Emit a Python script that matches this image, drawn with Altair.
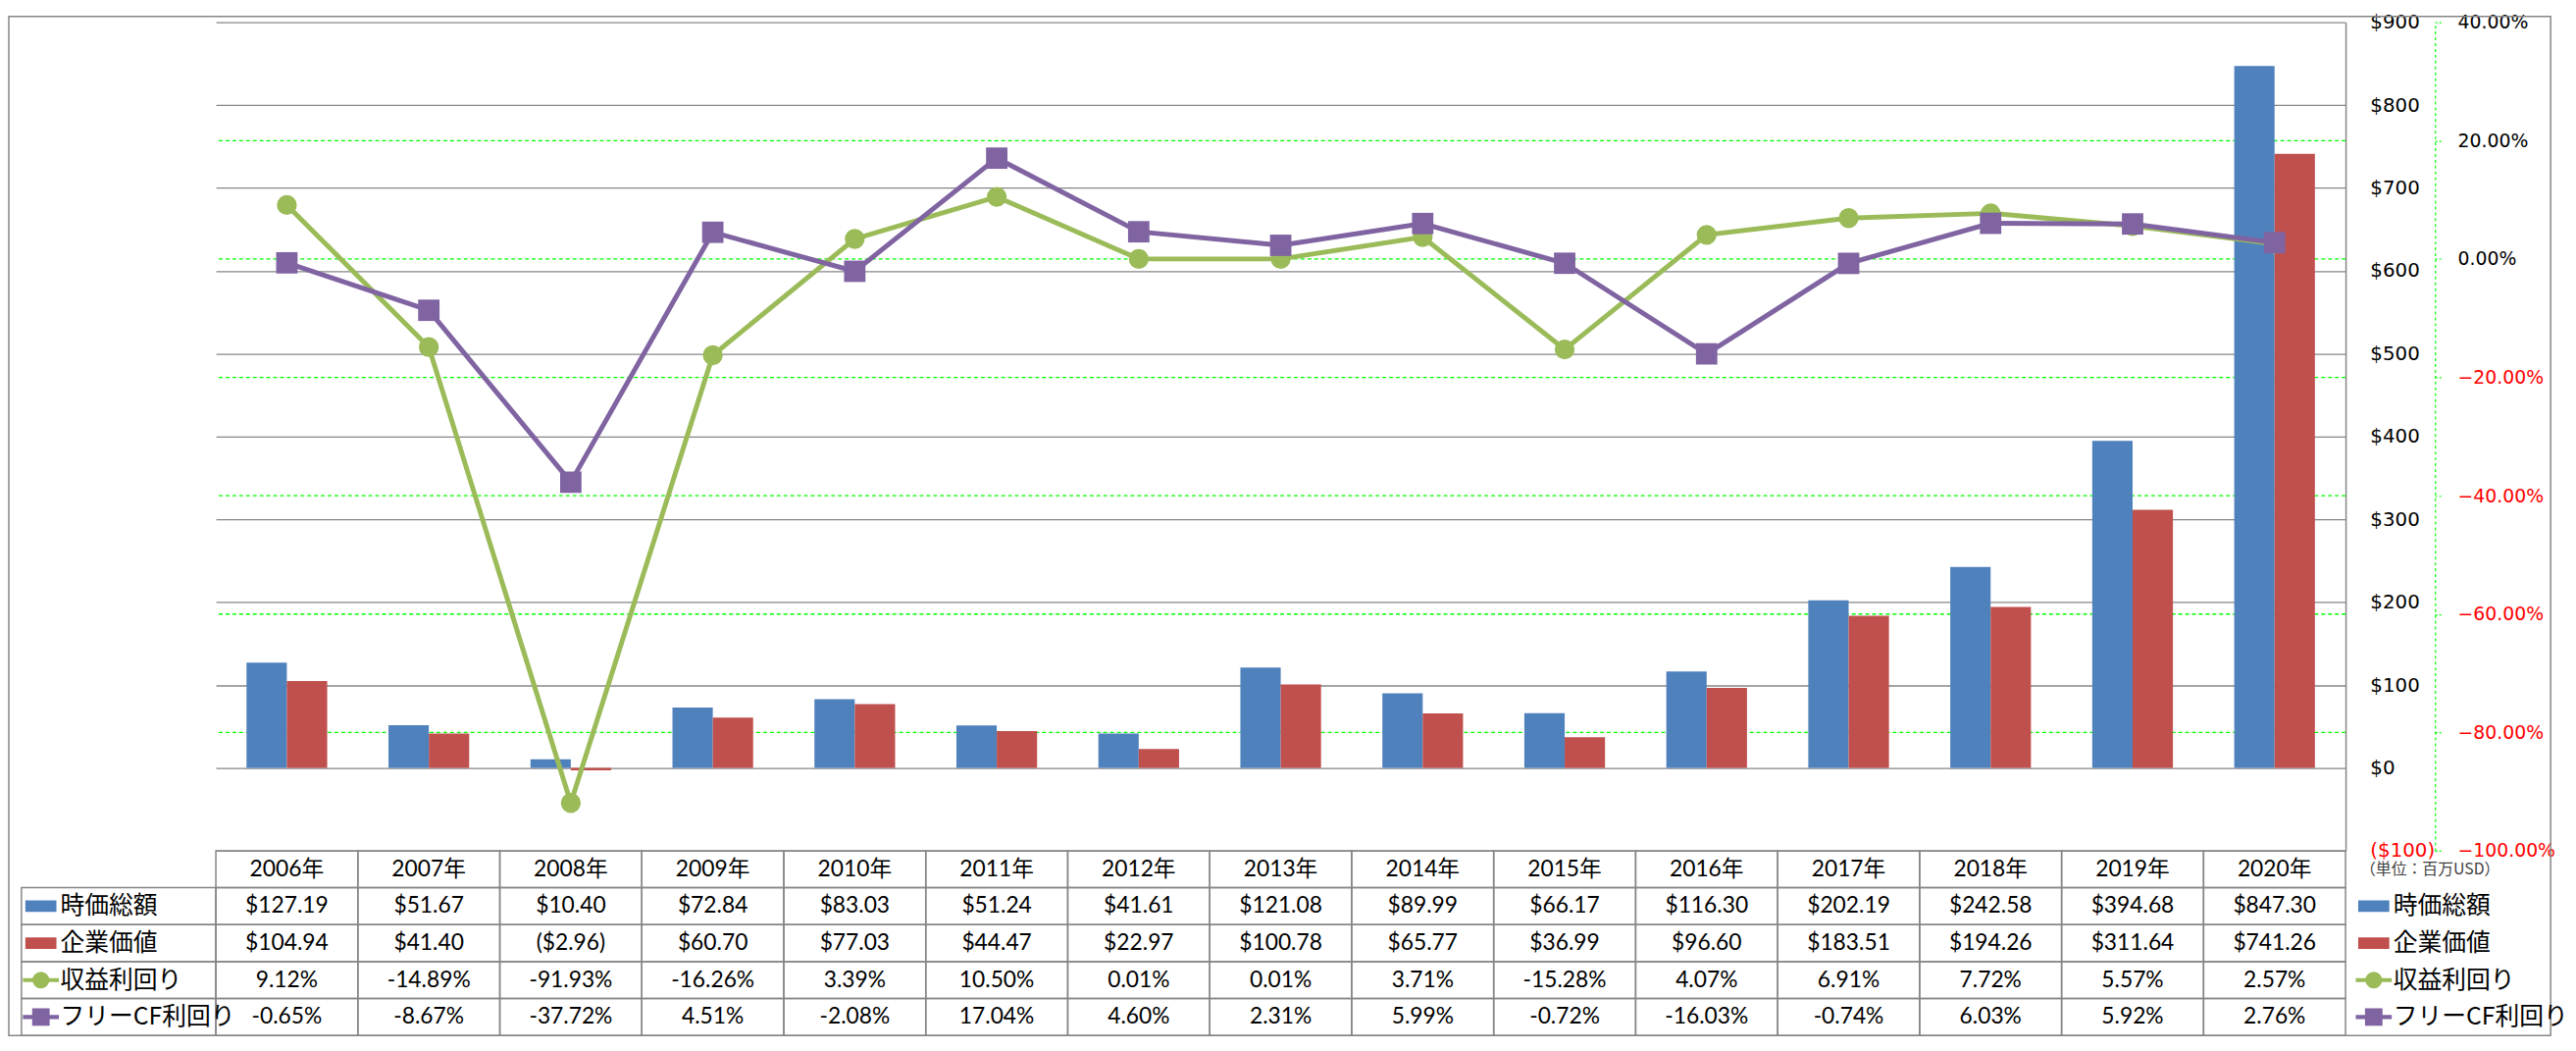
import altair as alt
import pandas as pd

# ---------------- data ----------------
years = [f"{y}年" for y in range(2006, 2021)]
market_cap = [127.19, 51.67, 10.40, 72.84, 83.03, 51.24, 41.61, 121.08, 89.99, 66.17,
              116.30, 202.19, 242.58, 394.68, 847.30]
enterprise_value = [104.94, 41.40, -2.96, 60.70, 77.03, 44.47, 22.97, 100.78, 65.77, 36.99,
                    96.60, 183.51, 194.26, 311.64, 741.26]
earnings_yield = [9.12, -14.89, -91.93, -16.26, 3.39, 10.50, 0.01, 0.01, 3.71, -15.28,
                  4.07, 6.91, 7.72, 5.57, 2.57]
fcf_yield = [-0.65, -8.67, -37.72, 4.51, -2.08, 17.04, 4.60, 2.31, 5.99, -0.72,
             -16.03, -0.74, 6.03, 5.92, 2.76]

series_names = ["時価総額", "企業価値", "収益利回り", "フリーCF利回り"]
series_colors = ["#4F81BD", "#C0504D", "#9BBB59", "#8064A2"]
usd_ticks = [-100, 0, 100, 200, 300, 400, 500, 600, 700, 800, 900]
pct_ticks = [-1.0, -0.8, -0.6, -0.4, -0.2, 0.0, 0.2, 0.4]
pct_grid = [-0.8, -0.6, -0.4, -0.2, 0.0, 0.2]
unit_label = "（単位：百万USD）"

# ---------------- layout / style ----------------
W, H, TH = 2191, 852, 190
GRAY = "#868686"
NUM_FONT = "Lato, 'Noto Sans CJK JP'"
JP_FONT = "'Noto Sans CJK JP'"
AX_FONT = "DejaVu Sans"


def usd(v):
    return f"(${abs(v):.2f})" if v < 0 else f"${v:.2f}"


def pct(v):
    return f"{v:.2f}%"


bar_df = pd.DataFrame(
    [{"year": y, "series": series_names[0], "value": v} for y, v in zip(years, market_cap)]
    + [{"year": y, "series": series_names[1], "value": v} for y, v in zip(years, enterprise_value)]
)
line_df = pd.DataFrame(
    [{"year": y, "series": series_names[2], "pct": v / 100} for y, v in zip(years, earnings_yield)]
    + [{"year": y, "series": series_names[3], "pct": v / 100} for y, v in zip(years, fcf_yield)]
)

row_domain = ["hdr"] + series_names
table_rows = []
for i, y in enumerate(years):
    table_rows.append({"year": y, "row": "hdr", "label": y})
    table_rows.append({"year": y, "row": series_names[0], "label": usd(market_cap[i])})
    table_rows.append({"year": y, "row": series_names[1], "label": usd(enterprise_value[i])})
    table_rows.append({"year": y, "row": series_names[2], "label": pct(earnings_yield[i])})
    table_rows.append({"year": y, "row": series_names[3], "label": pct(fcf_yield[i])})
table_df = pd.DataFrame(table_rows)

lcell_df = pd.DataFrame({"col": ["L"] * 4, "row": series_names})
leg_df = pd.DataFrame([{"side": s, "row": n} for s in ["L", "R"] for n in series_names])

# ---------------- scales ----------------
x_band = alt.Scale(domain=years, paddingInner=0, paddingOuter=0)
x_point = alt.Scale(type="point", domain=years, padding=0.5)
usd_scale = alt.Scale(domain=[-100, 900], nice=False, zero=False)
pct_scale = alt.Scale(domain=[-1.0, 0.4], nice=False, zero=False)
row_scale = alt.Scale(domain=row_domain, range=[H, H + TH], paddingInner=0, paddingOuter=0)
leg_x = alt.Scale(type="point", domain=["L", "R"], range=[-180, 2220], padding=0)

# ---------------- layers ----------------
border = alt.Chart(pd.DataFrame({"a": [0]})).mark_rect(
    fillOpacity=0, stroke=GRAY, strokeWidth=1.5
).encode(x=alt.value(-213), x2=alt.value(2402), y=alt.value(-6), y2=alt.value(H + TH))

ggrid = alt.Chart(pd.DataFrame({"g": pct_grid})).mark_rule(
    color="#00FF00", strokeDash=[4, 3], strokeWidth=1.3
).encode(y=alt.Y("g:Q", scale=pct_scale, axis=None))

bars = alt.Chart(bar_df).mark_bar().encode(
    x=alt.X("year:N", scale=x_band, axis=None),
    xOffset=alt.XOffset("series:N", scale=alt.Scale(domain=series_names[:2], paddingInner=0, paddingOuter=0.76)),
    y=alt.Y(
        "value:Q",
        scale=usd_scale,
        axis=alt.Axis(
            orient="right", values=usd_ticks, grid=True, gridColor=GRAY, gridWidth=1.3,
            domain=True, domainColor=GRAY, domainWidth=1.5, ticks=False,
            labelPadding=25, labelAlign="left", labelBaseline="middle",
            labelFont=AX_FONT, labelFontSize=20,
            labelColor=alt.condition("datum.value < 0", alt.value("#FF0000"), alt.value("#000000")),
            labelExpr="datum.value < 0 ? '($' + abs(datum.value) + ')' : '$' + datum.value",
            labelFlush=False, labelOverlap=False, title=None,
        ),
    ),
    color=alt.Color("series:N", scale=alt.Scale(domain=series_names[:2], range=series_colors[:2]), legend=None),
)

lines = alt.Chart(line_df).mark_line(strokeWidth=5).encode(
    x=alt.X("year:N", scale=x_point, axis=None),
    y=alt.Y(
        "pct:Q",
        scale=pct_scale,
        axis=alt.Axis(
            orient="right", offset=92, values=pct_ticks, format=".2%", grid=False,
            domain=True, domainColor="#00FF00", domainDash=[3, 3], domainWidth=1.2,
            ticks=True, tickColor="#00FF00", tickDash=[2, 2], tickSize=8, tickWidth=1.2,
            labelPadding=15, labelAlign="left", labelBaseline="middle",
            labelFont=AX_FONT, labelFontSize=19,
            labelColor=alt.condition("datum.value < 0", alt.value("#FF0000"), alt.value("#000000")),
            labelFlush=False, labelOverlap=False, title=None,
        ),
    ),
    color=alt.Color("series:N", scale=alt.Scale(domain=series_names[2:], range=series_colors[2:]), legend=None),
)

points = alt.Chart(line_df).mark_point(filled=True, opacity=1).encode(
    x=alt.X("year:N", scale=x_point, axis=None),
    y=alt.Y("pct:Q", scale=pct_scale, axis=None),
    color=alt.Color("series:N", scale=alt.Scale(domain=series_names[2:], range=series_colors[2:]), legend=None),
    shape=alt.Shape("series:N", scale=alt.Scale(domain=series_names[2:], range=["circle", "square"]), legend=None),
    size=alt.Size("series:O", scale=alt.Scale(domain=series_names[2:], range=[420, 484]), legend=None),
)

cells = alt.Chart(table_df).mark_rect(fillOpacity=0, stroke=GRAY, strokeWidth=1.5).encode(
    x=alt.X("year:N", scale=x_band, axis=None),
    y=alt.Y("row:N", scale=row_scale, axis=None),
)

lcells = alt.Chart(lcell_df).mark_rect(fillOpacity=0, stroke=GRAY, strokeWidth=1.5).encode(
    x=alt.X("col:N", scale=alt.Scale(domain=["L"], range=[-200, 0], paddingInner=0, paddingOuter=0), axis=None),
    y=alt.Y("row:N", scale=row_scale, axis=None),
)

ttext = alt.Chart(table_df).mark_text(font=NUM_FONT, fontSize=23, baseline="middle", align="center", color="#000000").encode(
    x=alt.X("year:N", scale=x_band, bandPosition=0.5, axis=None),
    y=alt.Y("row:N", scale=row_scale, bandPosition=0.5, axis=None),
    text="label:N",
)

leg_color = alt.Color("row:N", scale=alt.Scale(domain=series_names, range=series_colors), legend=None)
leg_xenc = alt.X("side:N", scale=leg_x, axis=None)
leg_yenc = alt.Y("row:N", scale=row_scale, bandPosition=0.5, axis=None)

lbox = alt.Chart(leg_df).transform_filter(
    alt.FieldOneOfPredicate(field="row", oneOf=series_names[:2])
).mark_point(shape="M-1,-0.375H1V0.375H-1Z", size=1024, filled=True, opacity=1).encode(
    x=leg_xenc, y=leg_yenc, color=leg_color
)

lline = alt.Chart(leg_df).transform_filter(
    alt.FieldOneOfPredicate(field="row", oneOf=series_names[2:])
).mark_point(shape="M-1,-0.11H1V0.11H-1Z", size=1369, filled=True, opacity=1).encode(
    x=leg_xenc, y=leg_yenc, color=leg_color
)

lmark = alt.Chart(leg_df).transform_filter(
    alt.FieldOneOfPredicate(field="row", oneOf=series_names[2:])
).mark_point(filled=True, opacity=1).encode(
    x=leg_xenc, y=leg_yenc, color=leg_color,
    shape=alt.Shape("row:N", scale=alt.Scale(domain=series_names[2:], range=["circle", "square"]), legend=None),
    size=alt.Size("row:O", scale=alt.Scale(domain=series_names[2:], range=[300, 324]), legend=None),
)

ltext = alt.Chart(leg_df).mark_text(align="left", dx=20, font=JP_FONT, fontSize=25, baseline="middle", color="#000000").encode(
    x=leg_xenc, y=leg_yenc, text="row:N"
)

unit = alt.Chart(pd.DataFrame({"t": [unit_label], "row": ["hdr"], "side": ["R"]})).mark_text(
    align="left", dx=-14, font=JP_FONT, fontSize=16, baseline="middle", color="#404040"
).encode(
    x=alt.X("side:N", scale=leg_x, axis=None),
    y=alt.Y("row:N", scale=row_scale, bandPosition=0.88, axis=None),
    text="t:N",
)

chart = alt.layer(
    border, ggrid, bars, lines, points, cells, lcells, ttext, lbox, lline, lmark, ltext, unit
).resolve_scale(
    x="independent", y="independent", color="independent", shape="independent", size="independent"
).properties(width=W, height=H, padding=0).configure_view(stroke="transparent")

chart.save("out.html", embed_options={"renderer": "svg", "actions": False})
